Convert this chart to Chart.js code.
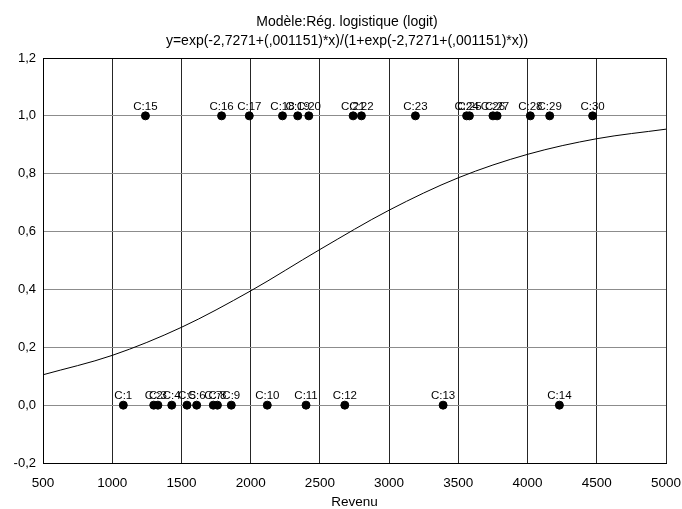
<!DOCTYPE html>
<html>
<head>
<meta charset="utf-8">
<script src="https://cdn.jsdelivr.net/npm/chart.js@4"></script>
<style>
  body { margin: 0; background: #fff; }
  canvas { display: block; }
</style>
</head>
<body>
<canvas id="chart" width="682" height="509"></canvas>
<script>
const revenu0 = [1080, 1300, 1330, 1430, 1540, 1610, 1730, 1760, 1860, 2120, 2400, 2680, 3390, 4230];
const labels0 = ['C:1', 'C:2', 'C:3', 'C:4', 'C:5', 'C:6', 'C:7', 'C:8', 'C:9', 'C:10', 'C:11', 'C:12', 'C:13', 'C:14'];
const revenu1 = [1240, 1790, 1990, 2230, 2340, 2420, 2740, 2800, 3190, 3560, 3580, 3750, 3780, 4020, 4160, 4470];
const labels1 = ['C:15', 'C:16', 'C:17', 'C:18', 'C:19', 'C:20', 'C:21', 'C:22', 'C:23', 'C:24', 'C:25', 'C:26', 'C:27', 'C:28', 'C:29', 'C:30'];

// fitted curve, read at each x tick
const curveX = [500, 1000, 1500, 2000, 2500, 3000, 3500, 4000, 4500, 5000];
const curveY = [0.105, 0.172, 0.269, 0.395, 0.538, 0.674, 0.786, 0.867, 0.921, 0.954];

const titleLines = ['Modèle:Rég. logistique (logit)', 'y=exp(-2,7271+(,001151)*x)/(1+exp(-2,7271+(,001151)*x))'];

const FONT = '"Liberation Sans", Arial, sans-serif';

const titlePlugin = {
    id: 'twoLineTitle',
    afterDraw(chart) {
        const ctx = chart.ctx;
        ctx.save();
        ctx.font = '14px ' + FONT;
        ctx.fillStyle = '#000';
        ctx.textAlign = 'center';
        ctx.textBaseline = 'middle';
        ctx.fillText(titleLines[0], 347, 22);
        ctx.fillText(titleLines[1], 347, 41);
        ctx.restore();
    },
};

const pointLabels = {
    id: 'pointLabels',
    afterDatasetsDraw(chart) {
        const ctx = chart.ctx;
        ctx.save();
        ctx.font = '11.5px ' + FONT;
        ctx.fillStyle = '#000';
        ctx.textAlign = 'center';
        ctx.textBaseline = 'alphabetic';
        chart.data.datasets.forEach(function (ds, i) {
            if (!ds.pointNames) return;
            chart.getDatasetMeta(i).data.forEach(function (pt, j) {
                ctx.fillText(ds.pointNames[j], pt.x, pt.y - 6);
            });
        });
        ctx.restore();
    },
};

const isEdge = (v, edge) => Math.abs(v - edge) < 1e-6;

new Chart(document.getElementById('chart'), {
    type: 'scatter',
    data: {
        datasets: [
            {
                type: 'line',
                data: curveX.map((x, i) => ({ x: x, y: curveY[i] })),
                borderColor: '#000',
                borderWidth: 1,
                pointRadius: 0,
                cubicInterpolationMode: 'monotone',
                fill: false,
                order: 2,
            },
            {
                data: revenu0.map(x => ({ x: x, y: 0 })),
                pointNames: labels0,
                backgroundColor: '#000',
                borderColor: '#000',
                pointRadius: 4,
                order: 1,
            },
            {
                data: revenu1.map(x => ({ x: x, y: 1 })),
                pointNames: labels1,
                backgroundColor: '#000',
                borderColor: '#000',
                pointRadius: 4,
                order: 1,
            },
        ],
    },
    options: {
        responsive: false,
        animation: false,
        layout: { padding: { top: 58, right: 0, left: 0, bottom: 0 } },
        plugins: {
            legend: { display: false },
            tooltip: { enabled: false },
        },
        scales: {
            x: {
                type: 'linear',
                min: 500,
                max: 5000,
                afterFit: function (scale) {
                    scale.height = 46;
                    scale.paddingLeft = 0;
                    scale.paddingRight = 16;
                },
                ticks: {
                    stepSize: 500,
                    color: '#000',
                    padding: 12,
                    maxRotation: 0,
                    font: { family: FONT, size: 13.5 },
                    callback: v => String(v),
                },
                grid: {
                    color: '#262626',
                    drawTicks: false,
                    tickLength: 0,
                },
                border: { color: '#000', width: 1 },
                title: {
                    display: true,
                    text: 'Revenu',
                    color: '#000',
                    padding: { top: 0, bottom: 0 },
                    font: { family: FONT, size: 13.5, lineHeight: 1 },
                },
            },
            y: {
                min: -0.2,
                max: 1.2,
                afterFit: function (scale) { scale.width = 43; },
                ticks: {
                    stepSize: 0.2,
                    color: '#000',
                    padding: 7,
                    font: { family: FONT, size: 13 },
                    callback: v => (Math.abs(v) < 1e-9 ? 0 : v).toFixed(1).replace('.', ','),
                },
                grid: {
                    color: ctx => (isEdge(ctx.tick.value, 1.2) ? '#000' : '#8c8c8c'),
                    drawTicks: false,
                    tickLength: 0,
                },
                border: { color: '#000', width: 1 },
            },
        },
    },
    plugins: [titlePlugin, pointLabels],
});
</script>
</body>
</html>
